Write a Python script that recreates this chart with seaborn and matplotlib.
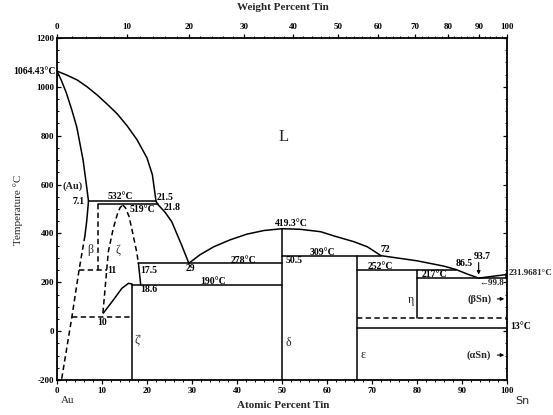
import numpy as np
import matplotlib
matplotlib.use("Agg")
import matplotlib.pyplot as plt
import seaborn as sns

# ---------------- data (atomic % Sn, temperature °C) ----------------
liq_au_x = [0, 2.2, 4.5, 6.7, 8.9, 11.1, 13.4, 15.6, 17.8, 20.0, 21.2, 22.0, 22.4, 24.0, 25.5, 27.7, 29.3]
liq_au_y = [1064.43, 1048, 1028, 1000, 967, 930, 889, 840, 783, 709, 640, 532, 519, 487, 448, 352, 278]
sol_au_x = [0, 1.0, 2.1, 3.3, 4.4, 5.8, 6.6, 7.0]
sol_au_y = [1064.43, 1025, 974, 905, 835, 700, 590, 532]
liq_mid_x = [29.3, 31.8, 34.8, 38.5, 42.2, 46.0, 50.0, 54.0, 58.6, 61.5, 66.0, 69.0, 72.0,
             80.0, 86.0, 88.7, 91.0, 93.7, 100]
liq_mid_y = [278, 313, 345, 374, 397, 412, 419.3, 417, 407, 390, 366, 345, 309,
             288, 266, 252, 235, 217, 231.9681]

solvus_solid_x = [7.0, 6.6, 6.2]
solvus_solid_y = [532, 450, 390]
solvus_dash_x = [6.2, 4.9, 3.3, 1.0]
solvus_dash_y = [390, 250, 57, -200]

beta_right_x = [9.0, 9.0]
beta_right_y = [519, 250]
zeta_left_x = [10.2, 11.05, 11.4, 12.5, 13.4, 14.0, 14.6]
zeta_left_y = [74, 250, 325, 420, 478, 505, 517]
zeta_right_x = [14.6, 15.2, 16.0, 16.6, 17.7, 18.1]
zeta_right_y = [517, 505, 470, 421, 325, 278]
zeta_low_x = [18.1, 18.6]
zeta_low_y = [278, 190]
zeta_p_x = [10.3, 12.5, 14.4, 15.9, 16.6]
zeta_p_y = [74, 127, 175, 196, 193]

# isotherms: temperature, start, end, style
iso_T = [532, 519, 278, 190, 309, 252, 217, 13, 250, 57, 52]
iso_x0 = [7.0, 9.0, 18.1, 16.6, 50.0, 66.7, 80.0, 66.7, 4.9, 3.3, 66.7]
iso_x1 = [22.0, 22.4, 50.0, 50.0, 72.0, 88.7, 99.8, 100, 11.0, 16.6, 100]
iso_ls = ['-', '-', '-', '-', '-', '-', '-', '-', '--', '--', '--']

# vertical compound lines: x, top, bottom
vert_x = [16.6, 50.0, 66.7, 80.0, 99.8]
vert_top = [193, 419.3, 309, 252, 217]
vert_bot = [-200, -200, -200, 52, 231.9681]

wt_ticks = [0, 10, 20, 30, 40, 50, 60, 70, 80, 90, 100]
at_ticks = [0, 10, 20, 30, 40, 50, 60, 70, 80, 90, 100]
t_ticks = [-200, 0, 200, 400, 600, 800, 1000, 1200]

# ---------------- figure ----------------
sns.set_theme(style="white")
plt.rcParams['font.family'] = ['Liberation Serif', 'DejaVu Serif']
fig = plt.figure(figsize=(5.53, 4.15), dpi=100)
ax = fig.add_axes([57/553, 1-380/415, 450/553, 342/415])
ax.set_xlim(0, 100)
ax.set_ylim(-200, 1200)

K = 'black'

def line(xs, ys, ls='-', lw=1.1):
    sns.lineplot(x=xs, y=ys, ax=ax, sort=False, estimator=None, color=K, lw=lw)
    ln = ax.lines[-1]
    ln.set_solid_joinstyle('round')
    if ls != '-':
        ln.set_linestyle((0, (3.5, 2.2)))

line(liq_au_x, liq_au_y)
line(sol_au_x, sol_au_y)
line(liq_mid_x, liq_mid_y)
line(solvus_solid_x, solvus_solid_y)
line(solvus_dash_x, solvus_dash_y, '--')
line(beta_right_x, beta_right_y, '--')
line(zeta_left_x, zeta_left_y, '--')
line(zeta_right_x, zeta_right_y, '--')
line(zeta_low_x, zeta_low_y)
line(zeta_p_x, zeta_p_y)
for T, a, b, ls in zip(iso_T, iso_x0, iso_x1, iso_ls):
    line([a, b], [T, T], ls)
for x, t0, t1 in zip(vert_x, vert_top, vert_bot):
    line([x, x], [t0, t1])

# ---------------- axes styling ----------------
for s in ax.spines.values():
    s.set_color(K)
    s.set_linewidth(1.3)
fs = 6.5
ax.set_xticks(at_ticks)
ax.set_xticklabels([str(v) for v in at_ticks], fontsize=fs, fontweight='bold')
ax.set_xticks(np.arange(0, 101, 2), minor=True)
ax.set_yticks(t_ticks)
ax.set_yticklabels([str(v) for v in t_ticks], fontsize=fs, fontweight='bold')
ax.set_yticks(np.arange(-200, 1201, 50), minor=True)
ax.tick_params(which='major', direction='out', length=3, width=0.9, colors=K, pad=2,
               bottom=True, left=True)
ax.tick_params(which='minor', direction='out', length=1.5, width=0.7, colors=K,
               bottom=True, left=True)
ax.tick_params(axis='y', which='both', right=True, direction='in', labelright=False)
ax.grid(False)

def wt2at(w):
    w = np.asarray(w, dtype=float)
    a = w / 118.71
    b = (100 - w) / 196.97
    return 100 * a / (a + b)

ax2 = ax.twiny()
ax2.set_xlim(0, 100)
ax2.set_xticks(wt2at(wt_ticks))
ax2.set_xticklabels([str(v) for v in wt_ticks], fontsize=fs, fontweight='bold')
ax2.set_xticks(wt2at(np.arange(0, 101, 2)), minor=True)
ax2.tick_params(which='major', direction='out', length=3, width=0.9, colors=K, pad=2)
ax2.tick_params(which='minor', direction='out', length=1.5, width=0.7, colors=K)
for s in ax2.spines.values():
    s.set_visible(False)
ax2.grid(False)

# ---------------- labels ----------------
fig.text(283/553, 1-8/415, 'Weight Percent Tin', ha='center', va='center',
         fontsize=8, fontweight='bold')
fig.text(283/553, 1-405/415, 'Atomic Percent Tin', ha='center', va='center',
         fontsize=8, fontweight='bold')
fig.text(18/553, 1-210/415, 'Temperature °C', ha='center', va='center',
         rotation=90, fontsize=8)
fig.text(68/553, 1-400/415, 'Au', ha='center', va='center', fontsize=8)
fig.text(522/553, 1-401/415, 'Sn', ha='center', va='center', fontsize=8, family='DejaVu Sans')

t = dict(fontsize=7, fontweight='bold', color=K, va='center')
ax.text(-0.3, 1064, '1064.43°C', ha='right', clip_on=False, **t)
ax.text(1.2, 595, '(Au)', ha='left', fontsize=7.5, fontweight='bold', va='center')
ax.text(6.2, 530, '7.1', ha='right', **t)
ax.text(14.0, 551, '532°C', ha='center', **t)
ax.text(22.2, 547, '21.5', ha='left', **t)
ax.text(19.0, 497, '519°C', ha='center', **t)
ax.text(23.6, 507, '21.8', ha='left', **t)
ax.text(7.3, 332, 'β', ha='center', fontsize=8.5, va='center')
ax.text(13.6, 332, 'ζ', ha='center', fontsize=8.5, va='center')
ax.text(11.1, 250, '11', ha='left', **t)
ax.text(18.4, 250, '17.5', ha='left', **t)
ax.text(29.6, 256, '29', ha='center', **t)
ax.text(41.4, 288, '278°C', ha='center', **t)
ax.text(18.6, 170, '18.6', ha='left', **t)
ax.text(34.7, 205, '190°C', ha='center', **t)
ax.text(10.0, 37, '10', ha='center', **t)
ax.text(17.9, -36, 'ζ\'', ha='center', fontsize=8.5, va='center')
ax.text(50.3, 795, 'L', ha='center', va='center', fontsize=12)
ax.text(52.0, 442, '419.3°C', ha='center', **t)
ax.text(50.8, 291, '50.5', ha='left', **t)
ax.text(59.0, 322, '309°C', ha='center', **t)
ax.text(71.9, 336, '72', ha='left', **t)
ax.text(71.9, 266, '252°C', ha='center', **t)
ax.text(88.6, 276, '86.5', ha='left', **t)
ax.text(83.8, 231, '217°C', ha='center', **t)
ax.text(92.6, 305, '93.7', ha='left', **t)
ax.annotate('', xy=(93.7, 220), xytext=(93.7, 292),
            arrowprops=dict(arrowstyle='-|>', color=K, lw=0.8, mutation_scale=5))
ax.text(100.4, 238, '231.9681°C', ha='left', clip_on=False, fontsize=6.5,
        fontweight='bold', va='center')
ax.text(99.4, 199, '←99.8', ha='right', fontsize=6.5, fontweight='bold', va='center')
ax.annotate('(βSn)', xy=(100, 132), xytext=(96.5, 132), ha='right', va='center',
            fontsize=7.5, fontweight='bold',
            arrowprops=dict(arrowstyle='-|>', color=K, lw=0.8, mutation_scale=5))
ax.annotate('(αSn)', xy=(100, -98), xytext=(96.5, -98), ha='right', va='center',
            fontsize=7.5, fontweight='bold',
            arrowprops=dict(arrowstyle='-|>', color=K, lw=0.8, mutation_scale=5))
ax.text(100.7, 17, '13°C', ha='left', clip_on=False, **t)
ax.text(78.6, 127, 'η', ha='center', fontsize=8.5, va='center')
ax.text(51.3, -49, 'δ', ha='center', fontsize=8.5, va='center')
ax.text(67.9, -98, 'ε', ha='center', fontsize=8.5, va='center')

fig.savefig('out.png', dpi=100)
